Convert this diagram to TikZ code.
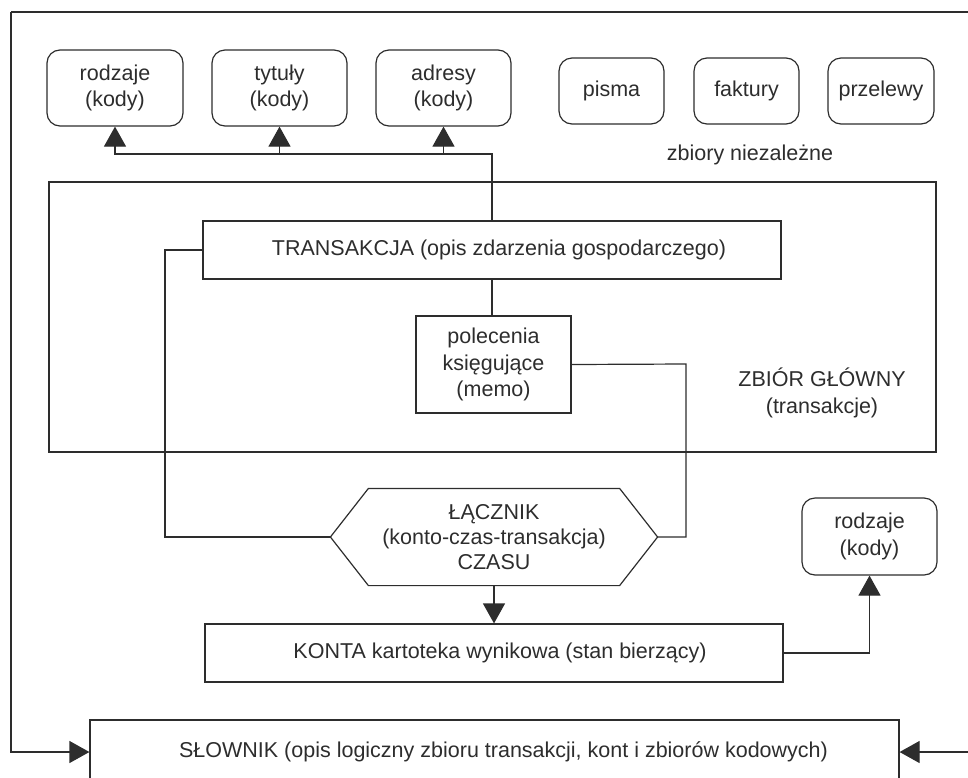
\documentclass[tikz,border=0pt]{standalone}
\usepackage{fontspec}
\setmainfont{Liberation Sans}
\usetikzlibrary{arrows.meta,calc}
\definecolor{ink}{RGB}{45,45,45}
\begin{document}
\begin{tikzpicture}[x=1pt,y=-1pt, line width=1.2pt, color=ink,
  font=\fontsize{21.5}{26.5}\selectfont,
  box/.style={draw, rectangle, align=center, inner sep=0pt},
  code/.style={box, rounded corners=13pt},
  arr/.style={-{Triangle[width=22pt,length=20pt]}}]
\path[use as bounding box] (0,0) rectangle (968,777);
\clip (0,0) rectangle (968,777);

% code sets and independent sets
\node[code, minimum width=136pt, minimum height=76pt] (rodA) at (115,88) {rodzaje\\(kody)};
\node[code, minimum width=135pt, minimum height=76pt] (tyt) at (279.5,88) {tytuły\\(kody)};
\node[code, minimum width=135pt, minimum height=76pt] (adr) at (443.5,88) {adresy\\(kody)};
\node[code, minimum width=105pt, minimum height=66pt] (pis) at (611.5,91) {pisma};
\node[code, minimum width=105pt, minimum height=66pt] (fak) at (746.5,91) {faktury};
\node[code, minimum width=106pt, minimum height=66pt] (prz) at (881,91) {przelewy};
\node (niez) at (750,155) {zbiory niezależne};

% main set
\node[draw, line width=2.3pt, minimum width=887pt, minimum height=270pt] (glowny) at (492.5,317) {};
\node[align=center] (glbl) at (822,393) {ZBIÓR GŁÓWNY\\(transakcje)};
\node[box, minimum width=578pt, minimum height=58pt] (trans) at (492,250) {\hspace*{14pt}TRANSAKCJA (opis zdarzenia gospodarczego)};
\node[box, minimum width=155pt, minimum height=97pt] (pol) at (493.5,364.5) {polecenia\\księgujące\\(memo)};

% time linker
\node[minimum width=326pt, minimum height=96pt, inner sep=0pt, align=center,
      font=\fontsize{21.5}{25}\selectfont] (lacz) at (494,537) {ŁĄCZNIK\\(konto-czas-transakcja)\\CZASU};
\draw (lacz.west) -- ($(lacz.north west)+(38,0)$) -- ($(lacz.north east)+(-38,0)$)
  -- (lacz.east) -- ($(lacz.south east)+(-38,0)$) -- ($(lacz.south west)+(38,0)$) -- cycle;

\node[box, minimum width=578pt, minimum height=58pt] (konta) at (494,653) {\hspace*{12pt}KONTA kartoteka wynikowa (stan bierzący)};
\node[code, minimum width=135pt, minimum height=77pt] (rodB) at (869.5,536.5) {rodzaje\\(kody)};
\node[box, minimum width=809pt, minimum height=64pt] (slow) at (494.5,752) {\hspace*{18pt}SŁOWNIK (opis logiczny zbioru transakcji, kont i zbiorów kodowych)};

% connectors
\coordinate (bus) at (492,154);
\draw[arr] (trans.north) -- (bus) -| (rodA.south);
\draw[arr] (tyt.south |- bus) -- (tyt.south);
\draw[arr] (adr.south |- bus) -- (adr.south);
\draw (trans.south) -- (trans.south |- pol.north);
\coordinate (lb) at (165,250);
\draw (trans.west) -- (lb) |- (lacz.west);
\coordinate (rb) at (686,364);
\draw (pol.east) -- (rb) |- (lacz.east);
\draw[arr] (lacz.south) -- (konta.north);
\draw[arr] (konta.east) -| (rodB.south);

% outer frame and dictionary inputs
\coordinate (frameTL) at (11,12);
\coordinate (frameTR) at (968,12);
\draw (frameTR) -- (frameTL);
\draw[arr] (frameTL) |- (slow.west);
\coordinate (rin) at (968,752);
\draw[arr] (rin) -- (slow.east);
\end{tikzpicture}
\end{document}
